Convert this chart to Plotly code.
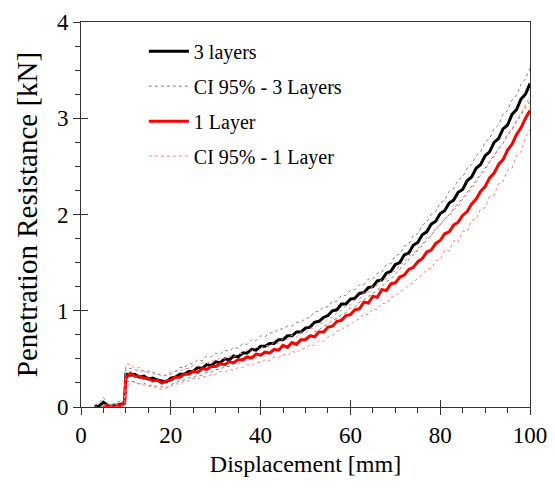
import plotly.graph_objects as go

# Displacement [mm]
X_PRE = [3, 4, 5, 6, 7, 8, 9, 9.7]
X_MAIN = list(range(10, 101))
X = X_PRE + X_MAIN

# Penetration resistance [kN]
layers3 = [0.00, 0.01, 0.05, 0.01, 0.01, 0.02, 0.03, 0.05,
    0.34, 0.33, 0.34, 0.31, 0.32, 0.29, 0.30, 0.28, 0.27, 0.26,
    0.30, 0.31, 0.34, 0.34, 0.37, 0.37, 0.41, 0.40, 0.44, 0.43,
    0.47, 0.46, 0.50, 0.49, 0.53, 0.52, 0.56, 0.56, 0.60, 0.59,
    0.63, 0.63, 0.66, 0.66, 0.70, 0.70, 0.74, 0.74, 0.78, 0.78,
    0.82, 0.83, 0.88, 0.89, 0.93, 0.95, 1.00, 1.01, 1.07, 1.07,
    1.12, 1.13, 1.18, 1.19, 1.24, 1.25, 1.31, 1.32, 1.39, 1.41,
    1.48, 1.50, 1.58, 1.60, 1.68, 1.71, 1.79, 1.82, 1.90, 1.93,
    2.01, 2.04, 2.12, 2.15, 2.23, 2.26, 2.35, 2.39, 2.48, 2.52,
    2.61, 2.65, 2.75, 2.79, 2.89, 2.93, 3.04, 3.09, 3.20, 3.25, 3.36]

layers3_hi = [0.02, 0.04, 0.10, 0.03, 0.03, 0.05, 0.06, 0.08,
    0.40, 0.40, 0.39, 0.37, 0.38, 0.36, 0.36, 0.34, 0.33, 0.33,
    0.36, 0.37, 0.41, 0.41, 0.45, 0.45, 0.49, 0.48, 0.53, 0.52,
    0.56, 0.55, 0.59, 0.58, 0.62, 0.61, 0.66, 0.65, 0.70, 0.69,
    0.74, 0.73, 0.77, 0.77, 0.81, 0.81, 0.84, 0.84, 0.88, 0.88,
    0.92, 0.93, 0.99, 0.99, 1.04, 1.04, 1.10, 1.10, 1.16, 1.16,
    1.21, 1.22, 1.27, 1.27, 1.33, 1.33, 1.39, 1.40, 1.48, 1.49,
    1.57, 1.59, 1.67, 1.69, 1.78, 1.80, 1.89, 1.92, 2.00, 2.03,
    2.12, 2.15, 2.24, 2.27, 2.36, 2.39, 2.48, 2.52, 2.61, 2.65,
    2.75, 2.79, 2.89, 2.93, 3.04, 3.08, 3.19, 3.24, 3.35, 3.41, 3.52]

layers3_lo = [0.00, 0.00, 0.01, 0.00, 0.00, 0.00, 0.01, 0.02,
    0.26, 0.27, 0.26, 0.24, 0.25, 0.22, 0.23, 0.21, 0.21, 0.20,
    0.23, 0.25, 0.27, 0.28, 0.30, 0.31, 0.33, 0.33, 0.36, 0.36,
    0.39, 0.39, 0.42, 0.42, 0.45, 0.45, 0.48, 0.48, 0.51, 0.51,
    0.54, 0.55, 0.56, 0.58, 0.60, 0.62, 0.64, 0.65, 0.68, 0.69,
    0.72, 0.74, 0.78, 0.80, 0.84, 0.86, 0.90, 0.92, 0.96, 0.98,
    1.03, 1.04, 1.09, 1.11, 1.15, 1.17, 1.22, 1.25, 1.30, 1.33,
    1.38, 1.42, 1.48, 1.52, 1.58, 1.63, 1.68, 1.73, 1.79, 1.84,
    1.89, 1.95, 2.00, 2.06, 2.11, 2.17, 2.23, 2.29, 2.35, 2.42,
    2.48, 2.55, 2.61, 2.68, 2.74, 2.82, 2.88, 2.96, 3.03, 3.11, 3.18]

layer1 = [None, None, 0.00, 0.01, 0.00, 0.01, 0.02, 0.04,
    0.30, 0.35, 0.32, 0.32, 0.30, 0.30, 0.27, 0.28, 0.25, 0.27,
    0.28, 0.31, 0.31, 0.34, 0.34, 0.37, 0.36, 0.40, 0.39, 0.42,
    0.42, 0.45, 0.44, 0.47, 0.46, 0.49, 0.49, 0.52, 0.51, 0.55,
    0.54, 0.57, 0.56, 0.60, 0.59, 0.64, 0.62, 0.67, 0.65, 0.70,
    0.70, 0.74, 0.73, 0.78, 0.78, 0.83, 0.84, 0.89, 0.90, 0.95,
    0.96, 1.01, 1.02, 1.09, 1.08, 1.15, 1.14, 1.22, 1.21, 1.28,
    1.29, 1.35, 1.37, 1.43, 1.45, 1.51, 1.54, 1.61, 1.63, 1.70,
    1.73, 1.80, 1.82, 1.89, 1.92, 1.99, 2.03, 2.11, 2.16, 2.24,
    2.29, 2.38, 2.43, 2.52, 2.57, 2.67, 2.73, 2.83, 2.90, 3.00, 3.08]

layer1_hi = [None, None, 0.02, 0.03, 0.02, 0.03, 0.04, 0.08,
    0.45, 0.44, 0.40, 0.41, 0.37, 0.38, 0.34, 0.35, 0.32, 0.33,
    0.34, 0.37, 0.37, 0.40, 0.40, 0.43, 0.42, 0.46, 0.45, 0.48,
    0.48, 0.51, 0.50, 0.53, 0.52, 0.55, 0.56, 0.59, 0.58, 0.62,
    0.61, 0.64, 0.63, 0.67, 0.66, 0.71, 0.70, 0.75, 0.73, 0.78,
    0.78, 0.82, 0.82, 0.87, 0.87, 0.92, 0.93, 0.98, 1.00, 1.05,
    1.06, 1.11, 1.12, 1.19, 1.19, 1.26, 1.26, 1.33, 1.33, 1.40,
    1.41, 1.48, 1.50, 1.57, 1.59, 1.65, 1.69, 1.76, 1.78, 1.86,
    1.89, 1.96, 1.98, 2.05, 2.08, 2.16, 2.20, 2.28, 2.33, 2.41,
    2.46, 2.55, 2.60, 2.69, 2.74, 2.84, 2.89, 2.98, 3.05, 3.14, 3.22]

layer1_lo = [None, None, 0.00, 0.00, 0.00, 0.00, 0.01, 0.01,
    0.18, 0.27, 0.25, 0.24, 0.23, 0.22, 0.20, 0.21, 0.18, 0.20,
    0.21, 0.24, 0.24, 0.27, 0.27, 0.30, 0.29, 0.32, 0.31, 0.34,
    0.34, 0.37, 0.36, 0.39, 0.38, 0.41, 0.41, 0.44, 0.43, 0.47,
    0.46, 0.49, 0.48, 0.52, 0.51, 0.55, 0.53, 0.58, 0.56, 0.61,
    0.61, 0.65, 0.64, 0.69, 0.68, 0.73, 0.74, 0.79, 0.80, 0.84,
    0.85, 0.90, 0.91, 0.97, 0.96, 1.02, 1.01, 1.08, 1.07, 1.14,
    1.15, 1.20, 1.22, 1.27, 1.29, 1.34, 1.37, 1.43, 1.44, 1.52,
    1.53, 1.63, 1.62, 1.73, 1.71, 1.83, 1.82, 1.94, 1.95, 2.06,
    2.07, 2.19, 2.20, 2.32, 2.34, 2.46, 2.48, 2.62, 2.65, 2.80, 2.88]

FONT = "Liberation Serif"

fig = go.Figure()
fig.add_trace(go.Scatter(x=X, y=layers3, mode="lines", name="3 layers",
                         line=dict(color="black", width=3), legendgroup="a"))
fig.add_trace(go.Scatter(x=X, y=layers3_hi, mode="lines", name="CI 95% - 3 Layers",
                         line=dict(color="#808080", width=1, dash="dot"), legendgroup="b"))
fig.add_trace(go.Scatter(x=X, y=layers3_lo, mode="lines", name="CI 95% - 3 Layers",
                         line=dict(color="#808080", width=1, dash="dot"), legendgroup="b",
                         showlegend=False))
fig.add_trace(go.Scatter(x=X, y=layer1, mode="lines", name="1 Layer",
                         line=dict(color="#ff0000", width=3), legendgroup="c"))
fig.add_trace(go.Scatter(x=X, y=layer1_hi, mode="lines", name="CI 95% - 1 Layer",
                         line=dict(color="#ff8080", width=1, dash="dot"), legendgroup="d"))
fig.add_trace(go.Scatter(x=X, y=layer1_lo, mode="lines", name="CI 95% - 1 Layer",
                         line=dict(color="#ff8080", width=1, dash="dot"), legendgroup="d",
                         showlegend=False))
# helper trace for the overlay axes (inside major ticks), invisible
fig.add_trace(go.Scatter(x=[0, 100], y=[0, 4], xaxis="x2", yaxis="y2", mode="markers",
                         marker=dict(opacity=0, size=1), showlegend=False, hoverinfo="skip"))

axis_common = dict(showgrid=False, zeroline=False, linecolor="#333333", linewidth=1,
                   tickcolor="#333333", automargin=False, ticklabeloverflow="allow",
                   tickfont=dict(family=FONT, size=23, color="black"))

fig.update_layout(
    width=555, height=491,
    margin=dict(l=73, r=33, t=14, b=92),
    paper_bgcolor="white", plot_bgcolor="white",
    font=dict(family=FONT, size=20, color="black"),
    xaxis=dict(range=[0, 100], dtick=20, tick0=0, ticks="outside", ticklen=7,
               minor=dict(dtick=5, ticks="outside", ticklen=5, tickcolor="#333333"),
               mirror=True, showline=True,
               title=dict(text="Displacement [mm]", font=dict(family=FONT, size=24), standoff=8),
               **axis_common),
    yaxis=dict(range=[0, 4], dtick=1, tick0=0, ticks="outside", ticklen=7,
               minor=dict(dtick=0.25, ticks="outside", ticklen=5, tickcolor="#333333"),
               mirror=True, showline=True,
               title=dict(text="Penetration Resistance [kN]", font=dict(family=FONT, size=29), standoff=10),
               **axis_common),
    xaxis2=dict(range=[0, 100], dtick=20, tick0=0, ticks="inside", ticklen=7,
                overlaying="x", anchor="y", side="bottom", showticklabels=False,
                showgrid=False, zeroline=False, showline=False, tickcolor="#333333"),
    yaxis2=dict(range=[0, 4], dtick=1, tick0=0, ticks="inside", ticklen=7,
                overlaying="y", anchor="x", side="left", showticklabels=False,
                showgrid=False, zeroline=False, showline=False, tickcolor="#333333"),
    legend=dict(x=0.14, y=0.975, xanchor="left", yanchor="top",
                bgcolor="rgba(0,0,0,0)", font=dict(family=FONT, size=20),
                tracegroupgap=6, itemwidth=40),
    showlegend=True,
)

fig.write_html("out.html")
